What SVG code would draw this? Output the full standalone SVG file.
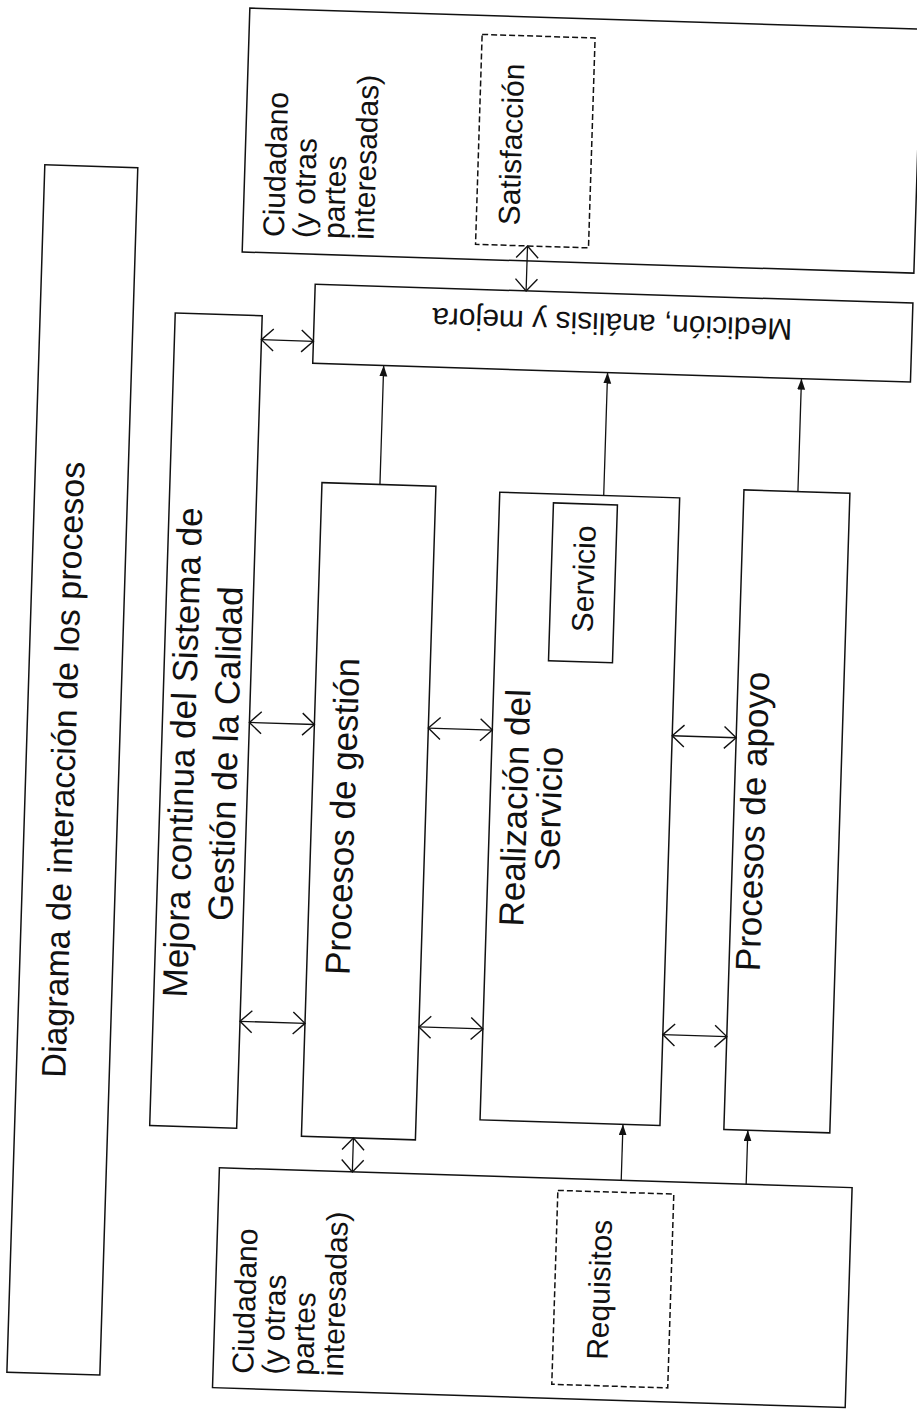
<svg xmlns="http://www.w3.org/2000/svg" width="917" height="1415" viewBox="0 0 917 1415">
<style>
.box{fill:none;stroke:#111;stroke-width:1.5}
.dash{fill:none;stroke:#111;stroke-width:1.5;stroke-dasharray:6 3}
.t{font-family:"Liberation Sans",Arial,sans-serif;fill:#111}
.s{font-size:30px}
.m{font-size:35px}
.c{stroke:#111;stroke-width:1.3;fill:none}
.dbl{marker-start:url(#open);marker-end:url(#open)}
.one{marker-end:url(#fill)}
</style>
<defs>
<marker id="open" markerUnits="userSpaceOnUse" markerWidth="16" markerHeight="26" refX="13" refY="12" orient="auto-start-reverse" viewBox="0 0 16 26">
<path d="M1,1 L13,12 L1,23" fill="none" stroke="#111" stroke-width="1.4"/>
</marker>
<marker id="fill" markerUnits="userSpaceOnUse" markerWidth="12" markerHeight="10" refX="11" refY="4" orient="auto" viewBox="0 0 12 10">
<path d="M0,0 L11,4 L0,8 z" fill="#111"/>
</marker>
</defs>
<rect width="917" height="1415" fill="#fff"/>
<g transform="rotate(1.8 458 707)">
<g id="title">
<rect class="box" x="28" y="178" width="93" height="1208"/>
<text class="t" font-size="34" text-anchor="middle" transform="translate(77 782) rotate(-90)">Diagrama de interacción de los procesos</text>
</g>
<g id="ciudadano-top">
<rect class="box" x="228" y="15" width="672" height="244"/>
<text class="t s" transform="translate(269 243) rotate(-90)"><tspan x="0" y="0">Ciudadano</tspan><tspan x="0" dy="30">(y otras</tspan><tspan x="0" dy="30">partes</tspan><tspan x="0" dy="30">interesadas)</tspan></text>
</g>
<g id="satisfaccion">
<rect class="dash" x="461" y="34" width="113" height="210"/>
<text class="t s" text-anchor="middle" transform="translate(504 143) rotate(-90)">Satisfacción</text>
</g>
<g id="medicion">
<rect class="box" x="302" y="289" width="598" height="79"/>
<text class="t s" text-anchor="middle" transform="translate(600 309) rotate(180)">Medición, análisis y mejora</text>
</g>
<g id="mejora">
<rect class="box" x="163" y="322" width="87" height="813"/>
<text class="t m" text-anchor="middle" transform="translate(196 761) rotate(-90)"><tspan x="0" y="0">Mejora continua del Sistema de</tspan><tspan x="0" dy="43">Gestión de la Calidad</tspan></text>
</g>
<g id="gestion">
<rect class="box" x="315" y="487" width="114" height="654"/>
<text class="t m" text-anchor="middle" transform="translate(358 820) rotate(-90)">Procesos de gestión</text>
</g>
<g id="realizacion">
<rect class="box" x="493" y="491" width="180" height="628"/>
<text class="t m" text-anchor="middle" transform="translate(530 806) rotate(-90)"><tspan x="0" y="0">Realización del</tspan><tspan x="0" dy="34">Servicio</tspan></text>
</g>
<g id="servicio">
<rect class="box" x="547" y="500" width="64" height="158"/>
<text class="t s" text-anchor="middle" transform="translate(590 575) rotate(-90)">Servicio</text>
</g>
<g id="apoyo">
<rect class="box" x="737" y="481" width="106" height="640"/>
<text class="t m" text-anchor="middle" transform="translate(768 812) rotate(-90)">Procesos de apoyo</text>
</g>
<g id="ciudadano-bottom">
<rect class="box" x="234" y="1175" width="633" height="220"/>
<text class="t s" transform="translate(274 1380) rotate(-90)"><tspan x="0" y="0">Ciudadano</tspan><tspan x="0" dy="30">(y otras</tspan><tspan x="0" dy="30">partes</tspan><tspan x="0" dy="30">interesadas)</tspan></text>
</g>
<g id="requisitos">
<rect class="dash" x="573" y="1187" width="116" height="194"/>
<text class="t s" text-anchor="middle" transform="translate(628 1285) rotate(-90)">Requisitos</text>
</g>
<g id="connectors">
<line class="c dbl" x1="513" y1="244" x2="513" y2="289"/>
<line class="c dbl" x1="250" y1="346" x2="302" y2="346"/>
<line class="c one" x1="373" y1="487" x2="373" y2="368"/>
<line class="c one" x1="597" y1="491" x2="597" y2="368"/>
<line class="c one" x1="791" y1="481" x2="791" y2="368"/>
<line class="c dbl" x1="250" y1="729" x2="315" y2="729"/>
<line class="c dbl" x1="429" y1="729" x2="493" y2="729"/>
<line class="c dbl" x1="673" y1="729" x2="737" y2="729"/>
<line class="c dbl" x1="250" y1="1028" x2="315" y2="1028"/>
<line class="c dbl" x1="429" y1="1028" x2="493" y2="1028"/>
<line class="c dbl" x1="673" y1="1028" x2="737" y2="1028"/>
<line class="c dbl" x1="367" y1="1141" x2="367" y2="1175"/>
<line class="c one" x1="636" y1="1175" x2="636" y2="1119"/>
<line class="c one" x1="761" y1="1175" x2="761" y2="1121"/>
</g>
</g>
</svg>
